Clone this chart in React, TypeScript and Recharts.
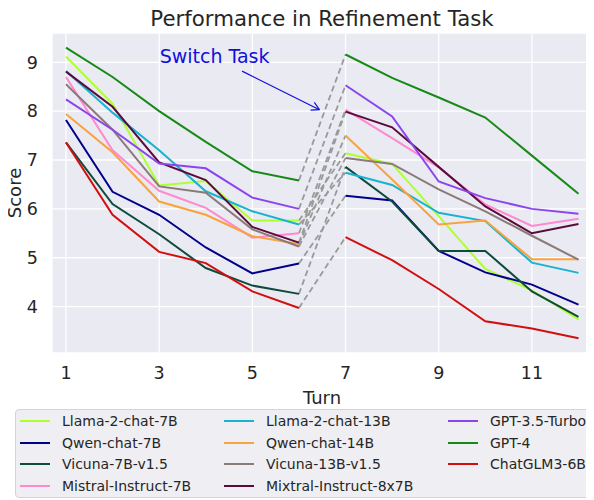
import React from 'react';
import { LineChart, Line, XAxis, YAxis, CartesianGrid, ReferenceLine, ReferenceDot } from 'recharts';

// turns 1-6: first task, 7-12: after the switch
const turns = [1, 2, 3, 4, 5, 6, 7, 8, 9, 10, 11, 12];
const xTicks = [1, 3, 5, 7, 9, 11];
const yTicks = [4, 5, 6, 7, 8, 9];

const llama7 = [9.12, 8.15, 6.48, 6.57, 5.76, 5.76, 7.14, 6.92, 5.85, 4.77, 4.33, 3.74];
const qwen7 = [7.82, 6.35, 5.88, 5.21, 4.68, 4.88, 6.27, 6.17, 5.14, 4.7, 4.45, 4.04];
const vicuna7 = [7.36, 6.1, 5.48, 4.79, 4.43, 4.26, 6.86, 6.15, 5.14, 5.14, 4.31, 3.79];
const mistral7 = [8.7, 7.2, 6.37, 6.02, 5.41, 5.5, 8.03, 7.45, 6.85, 6.09, 5.65, 5.8];
const llama13 = [8.82, 7.97, 7.2, 6.36, 5.95, 5.68, 6.74, 6.49, 5.92, 5.75, 4.9, 4.69];
const qwen14 = [7.94, 7.16, 6.15, 5.88, 5.44, 5.28, 7.5, 6.6, 5.68, 5.76, 4.97, 4.97];
const vicuna13 = [8.55, 7.62, 6.46, 6.33, 5.58, 5.23, 7.04, 6.92, 6.4, 5.95, 5.45, 4.96];
const mixtral = [8.81, 8.09, 6.95, 6.59, 5.63, 5.31, 7.99, 7.67, 6.86, 6.05, 5.5, 5.69];
const gpt35 = [8.24, 7.62, 6.93, 6.83, 6.23, 6.0, 8.53, 7.89, 6.56, 6.22, 6.0, 5.9];
const gpt4 = [9.3, 8.7, 8.0, 7.37, 6.77, 6.58, 9.16, 8.68, 8.28, 7.87, 7.09, 6.31];
const chatglm = [7.36, 5.88, 5.12, 4.89, 4.31, 3.97, 5.42, 4.95, 4.36, 3.7, 3.55, 3.35];

const models = [
  { key: 'llama7', name: 'Llama-2-chat-7B', values: llama7 },
  { key: 'qwen7', name: 'Qwen-chat-7B', values: qwen7 },
  { key: 'vicuna7', name: 'Vicuna-7B-v1.5', values: vicuna7 },
  { key: 'mistral7', name: 'Mistral-Instruct-7B', values: mistral7 },
  { key: 'llama13', name: 'Llama-2-chat-13B', values: llama13 },
  { key: 'qwen14', name: 'Qwen-chat-14B', values: qwen14 },
  { key: 'vicuna13', name: 'Vicuna-13B-v1.5', values: vicuna13 },
  { key: 'mixtral', name: 'Mixtral-Instruct-8x7B', values: mixtral },
  { key: 'gpt35', name: 'GPT-3.5-Turbo', values: gpt35 },
  { key: 'gpt4', name: 'GPT-4', values: gpt4 },
  { key: 'chatglm', name: 'ChatGLM3-6B', values: chatglm },
];

const colors: Record<string, string> = {
  llama7: '#adff2f',
  qwen7: '#00008b',
  vicuna7: '#0f4b3b',
  mistral7: '#ff88cf',
  llama13: '#17b3d0',
  qwen14: '#f8a33e',
  vicuna13: '#8a7a78',
  mixtral: '#5a0a3c',
  gpt35: '#8b45ef',
  gpt4: '#168a16',
  chatglm: '#d20f0f',
};

const rowsFor = (idx: number[]) =>
  idx.map((i) => {
    const row: any = { turn: turns[i] };
    models.forEach((m) => (row[m.key] = m.values[i]));
    return row;
  });

const phase1 = rowsFor([0, 1, 2, 3, 4, 5]);
const phase2 = rowsFor([6, 7, 8, 9, 10, 11]);
const bridge = rowsFor([5, 6]);

const FONT = 'DejaVu Sans, sans-serif';
const TEXT = '#262626';

const legendX = [20, 224, 448];
const legendY = [421, 442.5, 464, 485.5];

export default function App() {
  return (
    <div style={{ position: 'relative', width: 594, height: 500, marginLeft: -8, marginTop: -8, fontFamily: FONT }}>
      <LineChart width={594} height={500} margin={{ top: 33, right: 2, left: 7, bottom: 102 }}>
        <CartesianGrid fill="#eaeaf2" stroke="#ffffff" strokeWidth={1.3} />
        <XAxis
          type="number"
          dataKey="turn"
          domain={[0.7, 12.29]}
          ticks={xTicks}
          axisLine={false}
          tickLine={false}
          tickSize={0}
          tickMargin={13.5}
          height={45}
          tick={{ fontSize: 17.5, fill: TEXT, fontFamily: FONT }}
        />
        <YAxis
          type="number"
          domain={[3.05, 9.6]}
          ticks={yTicks}
          allowDataOverflow
          axisLine={false}
          tickLine={false}
          tickSize={0}
          tickMargin={14}
          width={45}
          tick={{ fontSize: 17.5, fill: TEXT, fontFamily: FONT }}
        />
        {models.map((m) => (
          <Line
            key={'b-' + m.key}
            data={bridge}
            dataKey={m.key}
            stroke="#9a9a9a"
            strokeWidth={1.8}
            strokeDasharray="6 3.5"
            dot={false}
            isAnimationActive={false}
          />
        ))}
        {models.map((m) => (
          <Line
            key={'a-' + m.key}
            data={phase1}
            dataKey={m.key}
            stroke={colors[m.key]}
            strokeWidth={2}
            dot={false}
            isAnimationActive={false}
          />
        ))}
        {models.map((m) => (
          <Line
            key={'c-' + m.key}
            data={phase2}
            dataKey={m.key}
            stroke={colors[m.key]}
            strokeWidth={2}
            dot={false}
            isAnimationActive={false}
          />
        ))}
        <ReferenceLine segment={[{ x: 4.78, y: 8.82 }, { x: 6.44, y: 8.03 }]} stroke="#1010dd" strokeWidth={1.2} />
        <ReferenceLine segment={[{ x: 6.33, y: 8.18 }, { x: 6.44, y: 8.03 }]} stroke="#1010dd" strokeWidth={1.2} />
        <ReferenceLine segment={[{ x: 6.25, y: 8.02 }, { x: 6.44, y: 8.03 }]} stroke="#1010dd" strokeWidth={1.2} />
        <ReferenceDot
          x={4.19}
          y={9.12}
          r={0}
          fill="none"
          stroke="none"
          label={{ value: 'Switch Task', position: 'center', fill: '#1010dd', fontSize: 19, fontFamily: FONT }}
        />
      </LineChart>

      <svg width={594} height={500} style={{ position: 'absolute', left: 0, top: 0, pointerEvents: 'none' }}>
        <text x={322} y={26} textAnchor="middle" fontSize={21.3} fill={TEXT} fontFamily={FONT}>
          Performance in Refinement Task
        </text>
        <text x={322} y={404} textAnchor="middle" fontSize={18} fill={TEXT} fontFamily={FONT}>
          Turn
        </text>
        <text x={21} y={193} textAnchor="middle" fontSize={18} fill={TEXT} fontFamily={FONT} transform="rotate(-90 21 193)">
          Score
        </text>
      </svg>

      <div
        style={{
          position: 'absolute',
          left: 15,
          top: 409,
          width: 590,
          height: 89,
          background: '#efeff3',
          border: '1px solid #d4d4d8',
          borderRadius: 4,
          boxSizing: 'border-box',
        }}
      />
      {models.map((m, i) => {
        const col = Math.floor(i / 4);
        const row = i % 4;
        const x = legendX[col];
        const y = legendY[row];
        return (
          <div key={'l-' + m.key}>
            <div
              style={{
                position: 'absolute',
                left: x,
                top: y - 1,
                width: 30,
                height: 2,
                background: colors[m.key],
              }}
            />
            <div
              style={{
                position: 'absolute',
                left: x + 42,
                top: y - 10,
                height: 20,
                lineHeight: '20px',
                fontSize: 14,
                color: TEXT,
                whiteSpace: 'nowrap',
              }}
            >
              {m.name}
            </div>
          </div>
        );
      })}
    </div>
  );
}
